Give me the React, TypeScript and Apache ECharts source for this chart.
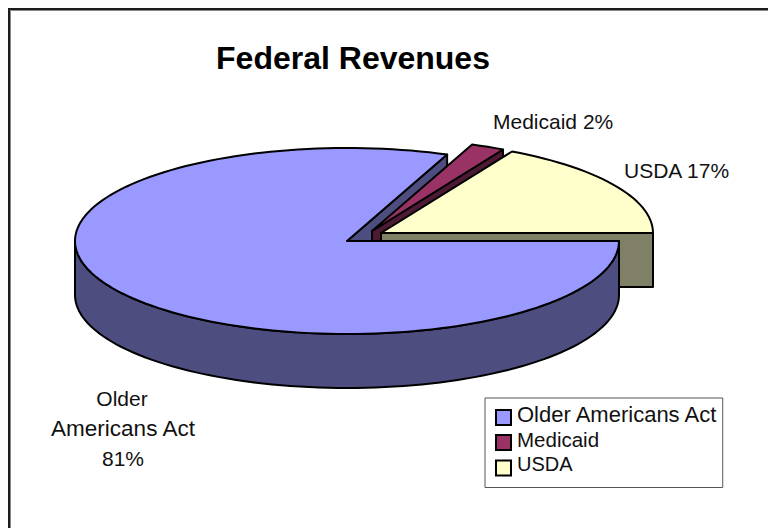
import React, { useEffect, useRef } from "react";
import * as echarts from "echarts";

const categories = ["Older Americans Act", "Medicaid", "USDA"];
const shares = [81, 2, 17];
const titleText = "Federal Revenues";

const topColors = ["#9999FF", "#993366", "#FFFFCC"];
const wallColors = ["#4D4D80", "#4D1A33", "#808066"];
const centers = [[347, 241], [372, 231], [381, 233]];
const legendFontSizes = [22, 20.5, 20];
const legendTextLift = [7, 6, 8];
const RX = 272, RY = 93, DEPTH = 54, STROKE = 2;

function rim(c: number[], deg0: number, deg1: number, dy = 0) {
  const pts: number[][] = [];
  const n = Math.max(2, Math.ceil(Math.abs(deg1 - deg0) / 2));
  for (let i = 0; i <= n; i++) {
    const a = ((deg0 + ((deg1 - deg0) * i) / n) * Math.PI) / 180;
    pts.push([c[0] + RX * Math.cos(a), c[1] + RY * Math.sin(a) + dy]);
  }
  return pts;
}
const poly = (points: number[][], fill: string, z2: number) => ({
  type: "polygon", z2,
  shape: { points },
  style: { fill, stroke: "#000", lineWidth: STROKE, lineJoin: "round" },
});

function sliceItem(index: number) {
  return (_p: any, api: any) => {
    const before = shares.slice(0, index).reduce((s, v) => s + v, 0);
    const total = shares.reduce((s, v) => s + v, 0);
    const a0 = (before / total) * 360;
    const a1 = ((before + api.value(0)) / total) * 360;
    const c = centers[index];
    const top = topColors[index], wall = wallColors[index];
    const endRim = rim(c, a1, a1)[0];
    const children: any[] = [];
    if (index === 0) {
      // cut face at the slice's end sits behind the neighbours
      children.push(poly([c, endRim, [endRim[0], endRim[1] + DEPTH], [c[0], c[1] + DEPTH]], wall, 1));
      // outer wall over the lower half of the ellipse, then the top
      const upper = rim(c, 0, 180);
      const lower = rim(c, 180, 0, DEPTH);
      children.push(poly([...upper, ...lower], wall, 8));
      children.push(poly([c, ...rim(c, a0, a1)], top, 9));
    } else {
      const base = index * 2;
      // the cut face that looks toward the viewer
      children.push(poly([c, endRim, [endRim[0], endRim[1] + DEPTH], [c[0], c[1] + DEPTH]], wall, base));
      children.push(poly([c, ...rim(c, a0, a1)], top, base + 1));
    }
    return { type: "group", children };
  };
}

export default function App() {
  const ref = useRef<HTMLDivElement>(null);
  useEffect(() => {
    const chart = echarts.init(ref.current!, undefined, { renderer: "svg" });
    const font = "'Liberation Sans', Arial, sans-serif";
    const labelStyle = { fill: "#111", fontFamily: font, fontSize: 21 };
    const rich: Record<string, any> = {};
    categories.forEach((_, i) => {
      rich[`r${i}`] = {
        fontFamily: font, fontSize: legendFontSizes[i], color: "#111",
        padding: [0, 0, legendTextLift[i], 1],
      };
    });
    chart.setOption({
      animation: false,
      backgroundColor: "#fff",
      title: {
        text: titleText,
        left: 348, top: 37, textAlign: "center",
        textStyle: { fontFamily: font, fontWeight: "bold", fontSize: 32, color: "#000" },
      },
      legend: {
        show: true, orient: "vertical",
        left: 485, top: 398,
        padding: [5, 4, 11, 10],
        itemWidth: 15, itemHeight: 15, itemGap: 3,
        borderColor: "#555", borderWidth: 1,
        selectedMode: false,
        formatter: (name: string) => `{r${categories.indexOf(name)}|${name}}`,
        textStyle: { rich },
        data: categories.map((name, i) => ({
          name, icon: "rect",
          itemStyle: { color: topColors[i], borderColor: "#000", borderWidth: 2 },
        })),
      },
      graphic: [
        { type: "rect", silent: true, z: -1, shape: { x: 9, y: 9, width: 800, height: 600 }, style: { fill: "#fff", stroke: "#1c1c1c", lineWidth: 2 } },
        { type: "rect", silent: true, z: -1, shape: { x: 10.5, y: 10.5, width: 800, height: 600 }, style: { fill: "none", stroke: "#888", lineWidth: 1 } },
        { type: "text", x: 493, y: 121, style: { ...labelStyle, text: `${categories[1]} ${shares[1]}%`, textVerticalAlign: "middle" } },
        { type: "text", x: 624, y: 170, style: { ...labelStyle, text: `${categories[2]} ${shares[2]}%`, textVerticalAlign: "middle" } },
        { type: "text", x: 122, y: 398, style: { ...labelStyle, text: "Older", textAlign: "center", textVerticalAlign: "middle" } },
        { type: "text", x: 123, y: 428, style: { ...labelStyle, fontSize: 22.5, text: "Americans Act", textAlign: "center", textVerticalAlign: "middle" } },
        { type: "text", x: 123, y: 458, style: { ...labelStyle, text: `${shares[0]}%`, textAlign: "center", textVerticalAlign: "middle" } },
      ],
      series: categories.map((name, i) => ({
        type: "custom", name, coordinateSystem: "none", silent: true,
        itemStyle: { color: topColors[i] },
        renderItem: sliceItem(i),
        data: [[shares[i]]],
      })),
    });
    return () => chart.dispose();
  }, []);
  return <div ref={ref} style={{ position: "fixed", left: 0, top: 0, width: 768, height: 528 }} />;
}
